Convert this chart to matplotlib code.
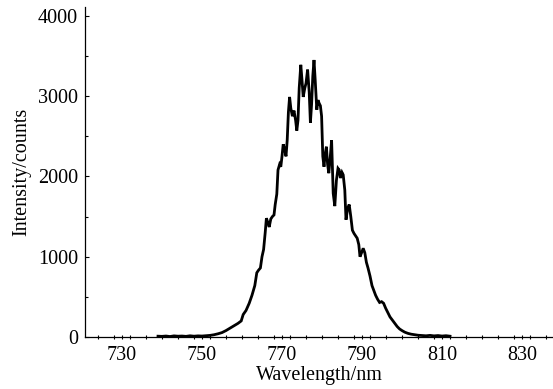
import matplotlib
matplotlib.use("Agg")
import matplotlib.pyplot as plt
from matplotlib.ticker import MultipleLocator

wavelength = [739.0, 740.0, 741.0, 742.0, 743.0, 744.0, 745.0, 746.0, 747.0, 748.0,
              749.0, 750.0, 751.0, 752.0, 753.0, 754.0, 755.0, 756.0, 757.0, 758.0,
              759.0, 759.8, 760.3, 761.0, 761.8, 762.5, 763.2, 763.7, 764.1, 764.6,
              765.0, 765.4, 765.8, 766.1, 766.5, 766.8, 767.2, 767.6, 768.0, 768.3,
              768.7, 769.0, 769.4, 769.7, 770.0, 770.3, 770.7, 771.0, 771.3, 771.6,
              771.9, 772.2, 772.6, 773.0, 773.4, 773.7, 774.0, 774.3, 774.7, 775.0,
              775.3, 775.7, 776.0, 776.4, 776.8, 777.1, 777.4, 777.7, 778.0, 778.3,
              778.7, 779.0, 779.3, 779.6, 779.9, 780.2, 780.5, 780.8, 781.1, 781.4,
              781.7, 782.0, 782.4, 782.8, 783.2, 783.6, 784.0, 784.3, 784.6, 785.0,
              785.3, 785.7, 786.0, 786.4, 786.8, 787.2, 787.6, 788.0, 788.4, 788.8,
              789.2, 789.5, 789.9, 790.3, 790.7, 791.1, 791.5, 792.0, 792.5, 792.9,
              793.4, 793.9, 794.4, 794.9, 795.4, 795.9, 796.4, 797.0, 797.6, 798.2,
              798.8, 799.4, 800.0, 800.7, 801.5, 802.3, 803.0, 804.0, 805.0, 806.0,
              807.0, 808.0, 809.0, 810.0, 811.0, 812.0]
intensity = [10, 8, 12, 6, 14, 10, 12, 8, 15, 10,
             14, 12, 16, 20, 28, 40, 55, 80, 110, 140,
             170, 200, 280, 330, 420, 520, 640, 800, 830, 860,
             1000, 1090, 1300, 1480, 1420, 1370, 1470, 1500, 1520, 1650,
             1780, 2080, 2150, 2120, 2250, 2400, 2330, 2250, 2450, 2800,
             2990, 2850, 2750, 2820, 2700, 2570, 2700, 3100, 3390, 3200,
             2990, 3100, 3160, 3330, 3050, 2670, 2900, 3250, 3450, 3200,
             2830, 2950, 2910, 2880, 2750, 2250, 2120, 2280, 2370, 2150,
             2040, 2200, 2450, 1790, 1630, 1950, 2100, 2080, 1980, 2050,
             2020, 1830, 1460, 1600, 1650, 1500, 1330, 1290, 1260, 1230,
             1150, 1000, 1050, 1105, 1050, 930, 860, 760, 640, 586,
             520, 470, 430, 440, 420, 360, 310, 250, 210, 170,
             130, 100, 80, 60, 45, 35, 30, 22, 18, 15,
             20, 14, 18, 12, 16, 10]

x_ticks = [730, 750, 770, 790, 810, 830]
y_ticks = [0, 1000, 2000, 3000, 4000]

plt.rcParams['font.family'] = ['Liberation Serif', 'DejaVu Serif']

fig = plt.figure(figsize=(5.53, 3.89), dpi=100)
ax = fig.add_axes([85/553, 52/389, 468/553, 330/389])
ax.plot(wavelength, intensity, color='black', lw=2.0, solid_joinstyle='miter')

ax.set_xlim(720.75, 837.75)
ax.set_ylim(0, 4110)
ax.set_xticks(x_ticks)
ax.set_yticks(y_ticks)
ax.xaxis.set_minor_locator(MultipleLocator(4))
ax.yaxis.set_minor_locator(MultipleLocator(500))
for s in ['top', 'right']:
    ax.spines[s].set_visible(False)
for s in ['left', 'bottom']:
    ax.spines[s].set_linewidth(0.9)
ax.tick_params(axis='both', which='both', direction='in', width=0.8, labelsize=14.5)
ax.tick_params(axis='both', which='major', length=3)
ax.tick_params(axis='both', which='minor', length=2.5)
ax.tick_params(axis='x', which='both', direction='inout')
ax.tick_params(axis='x', pad=5)
ax.tick_params(axis='y', pad=5)
ax.set_xlabel('Wavelength/nm', fontsize=14.5, labelpad=1)
ax.set_ylabel('Intensity/counts', fontsize=14.5, labelpad=5)

fig.savefig('out.png', dpi=100)
